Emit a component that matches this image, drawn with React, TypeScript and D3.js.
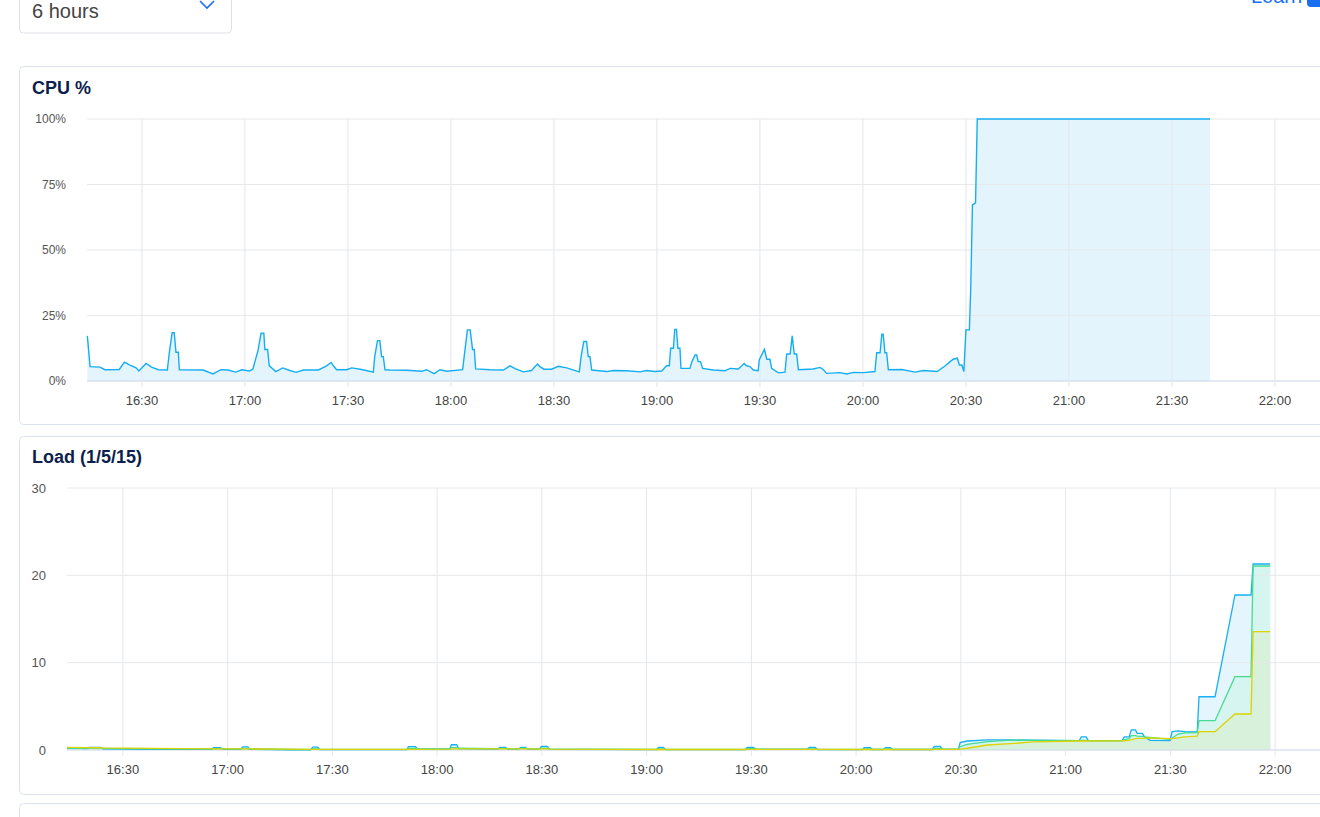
import React from 'react'
import * as d3 from 'd3'

// minutes after 16:14, the left edge of the 6 hour window
const cpuMinutes = [
  0.1, 0.9, 3.8, 5.2, 9.4, 10.9, 12.5, 14.3, 15.1, 17.2, 18.8, 20.8, 23.4, 24.0, 24.8, 25.4, 25.9, 26.6, 26.9,
  33.8, 36.7, 39.0, 41.1, 43.3, 45.1, 47.3, 48.3, 49.8, 50.7, 51.5, 51.8, 52.6, 53.1, 55.0, 57.0, 59.1, 60.9,
  63.0, 67.4, 69.8, 71.1, 71.7, 72.7, 75.6, 77.1, 80.0, 83.4, 83.8, 84.6, 85.3, 85.8, 86.3, 86.8, 88.3, 93.1,
  97.5, 98.9, 101.1, 102.8, 104.8, 109.4, 110.1, 110.8, 111.6, 112.3, 112.8, 113.2, 117.4, 121.3, 123.2, 124.7,
  127.1, 129.5, 130.0, 131.2, 131.9, 133.1, 135.3, 137.3, 139.7, 143.4, 143.9, 144.7, 145.5, 146.0, 146.5,
  147.0, 151.4, 153.3, 157.2, 161.1, 163.0, 165.4, 167.4, 168.8, 169.6, 170.0, 170.8, 171.2, 171.7, 172.1,
  172.7, 173.0, 175.6, 176.2, 177.1, 177.6, 178.0, 178.7, 179.3, 182.4, 185.8, 187.3, 189.7, 190.7, 191.4,
  192.1, 193.1, 194.1, 195.5, 195.8, 197.3, 198.0, 198.9, 199.4, 201.4, 203.3, 203.8, 204.8, 205.4, 206.0,
  206.7, 207.2, 211.5, 213.5, 214.5, 215.4, 219.3, 221.3, 223.2, 226.1, 229.5, 230.0, 231.0, 231.5, 231.9,
  232.4, 232.9, 233.4, 237.3, 241.2, 243.6, 247.6, 249.9, 251.4, 252.3, 253.5, 254.1, 254.8, 255.4, 256.0,
  257.0, 257.4, 257.9, 258.8, 259.3, 327.1,
]
const cpuValues = [
  17.2, 5.5, 5.3, 4.3, 4.4, 7.2, 6.1, 5.0, 3.8, 6.7, 5.3, 4.3, 4.2, 11, 18.4, 18.4, 11, 11, 4.3,
  4.2, 2.7, 4.3, 4.2, 3.4, 4.3, 3.8, 4.5, 11.6, 18.2, 18.2, 12, 12, 5.8, 3.6, 5.0, 4.0, 3.3,
  4.2, 4.2, 5.8, 7.1, 5.9, 4.3, 4.3, 5.0, 4.4, 3.4, 9.3, 15.4, 15.4, 9.3, 9.3, 4.3, 4.2, 4.1,
  3.7, 4.3, 2.8, 4.3, 3.7, 4.3, 12, 19.5, 19.5, 12, 12, 4.6, 4.3, 4.2, 5.8, 4.7,
  3.5, 4.0, 4.8, 6.5, 5.5, 4.5, 4.5, 5.6, 5.0, 3.5, 9.3, 15.1, 15.1, 9.3, 9.3,
  4.2, 3.6, 4.0, 3.9, 3.5, 4.0, 3.6, 3.8, 5.8, 5.8, 12.5, 12.5, 19.7, 19.7, 12.5,
  12.5, 4.8, 4.8, 7.4, 9.9, 9.9, 7.4, 7.4, 4.8, 4.2, 3.9, 4.8, 4.6, 5.8, 6.7,
  5.8, 5.5, 4.2, 3.9, 8, 12.1, 8.3, 8.3, 4.8, 3.1, 3.4, 10.3, 10.3, 17.2, 10.3,
  10.3, 4.3, 4.6, 5.2, 4.3, 2.9, 3.2, 2.7, 3.3, 3.2, 3.6, 10.8, 10.8, 17.9, 17.9,
  10.8, 10.8, 4.3, 4.4, 3.4, 4.0, 3.6, 5.7, 7.4, 8.3, 8.7, 6.1, 6.1, 3.6, 19.5,
  19.5, 35.4, 67.2, 68, 100, 100,
]
const cpuTicks = [0, 25, 50, 75, 100]

const loadMinutes = [
  0, 5.7, 6.3, 9.7, 10.3, 24.0, 41.5, 42.0, 44.0, 44.6, 49.8, 50.3, 51.8, 52.3, 64.1, 69.8, 70.4, 71.8, 72.4,
  97.3, 97.8, 99.8, 100.4, 109.6, 110.1, 111.6, 112.2, 123.3, 123.9, 125.6, 126.2, 129.3, 129.9, 131.3, 131.9,
  135.3, 135.9, 137.6, 138.2, 168.8, 169.4, 170.8, 171.4, 194.3, 194.8, 196.6, 197.2, 212.0, 212.6, 214.3, 214.9,
  227.8, 228.3, 230.1, 230.6, 233.8, 234.4, 235.8, 236.4, 247.8, 248.4, 250.1, 250.7, 255.3, 255.8, 257.8, 263.6,
  270.1, 276.7, 289.9, 290.5, 291.9, 292.5, 302.2, 302.8, 304.2, 304.8, 306.0, 306.5, 308.0, 308.6, 310.2, 315.9,
  316.5, 318.2, 320.2, 323.7, 324.2, 328.8, 334.5, 339.1, 339.7, 344.6,
]
const loadOne = [
  0.25, 0.15, 0.3, 0.3, 0.12, 0.08, 0.08, 0.28, 0.28, 0.08, 0.08, 0.35, 0.35, 0.08, 0.03, 0.03, 0.32, 0.32, 0.04,
  0.06, 0.38, 0.38, 0.1, 0.1, 0.6, 0.6, 0.15, 0.1, 0.3, 0.3, 0.1, 0.1, 0.3, 0.3, 0.1,
  0.1, 0.42, 0.42, 0.08, 0.04, 0.3, 0.3, 0.05, 0.06, 0.3, 0.3, 0.08, 0.08, 0.3, 0.3, 0.06,
  0.05, 0.28, 0.28, 0.06, 0.06, 0.28, 0.28, 0.06, 0.06, 0.4, 0.4, 0.08, 0.07, 0.84, 1.03, 1.15,
  1.15, 1.12, 1.08, 1.5, 1.5, 1.07, 1.07, 1.5, 1.5, 2.3, 2.3, 1.9, 1.9, 1.5, 1.1, 1.07,
  2.1, 2.2, 2.1, 2.06, 6.1, 6.1, 17.75, 17.75, 21.3, 21.3,
]
const loadFive = [
  0.2, 0.2, 0.22, 0.22, 0.18, 0.12, 0.12, 0.16, 0.16, 0.12, 0.12, 0.18, 0.18, 0.12, 0.06, 0.06, 0.12, 0.12, 0.07,
  0.1, 0.18, 0.18, 0.14, 0.14, 0.28, 0.28, 0.2, 0.15, 0.18, 0.18, 0.15, 0.14, 0.18, 0.18, 0.14,
  0.14, 0.2, 0.2, 0.12, 0.07, 0.12, 0.12, 0.08, 0.09, 0.15, 0.15, 0.1, 0.1, 0.14, 0.14, 0.09,
  0.08, 0.12, 0.12, 0.08, 0.08, 0.12, 0.12, 0.08, 0.08, 0.15, 0.15, 0.1, 0.1, 0.38, 0.65, 0.95,
  1.12, 1.1, 1.07, 1.1, 1.1, 1.07, 1.07, 1.2, 1.3, 1.64, 1.64, 1.6, 1.55, 1.5, 1.45, 1.22,
  1.35, 1.83, 1.95, 1.98, 3.36, 3.36, 8.4, 8.4, 21.07, 21.07,
]
const loadFifteen = [
  0.3, 0.28, 0.28, 0.26, 0.25, 0.18, 0.14, 0.14, 0.14, 0.14, 0.13, 0.13, 0.13, 0.12, 0.09, 0.08, 0.08, 0.08, 0.08,
  0.07, 0.08, 0.08, 0.08, 0.09, 0.12, 0.12, 0.12, 0.12, 0.12, 0.12, 0.12, 0.12, 0.12, 0.12, 0.12,
  0.11, 0.12, 0.12, 0.11, 0.06, 0.06, 0.06, 0.06, 0.06, 0.07, 0.07, 0.07, 0.07, 0.07, 0.07, 0.07,
  0.06, 0.06, 0.06, 0.06, 0.06, 0.06, 0.06, 0.06, 0.06, 0.07, 0.07, 0.07, 0.07, 0.1, 0.2, 0.57,
  0.72, 0.92, 1.03, 1.03, 1.03, 1.03, 1.05, 1.06, 1.1, 1.2, 1.3, 1.33, 1.34, 1.36, 1.38, 1.3,
  1.3, 1.4, 1.5, 1.6, 2.1, 2.1, 4.12, 4.12, 13.55, 13.55,
]
const loadTicks = [0, 10, 20, 30]

const FONT = '"Liberation Sans", Arial, sans-serif'
const start = new Date(2024, 0, 1, 16, 14)
const end = d3.timeMinute.offset(start, 360)
const toDate = (m: number) => new Date(start.getTime() + m * 60000)

type Pt = { t: Date; v: number }

function Grid({ x, y, top, bottom, left, right, yTicks, yFmt, labelX, yFont }: any) {
  const ticks: Date[] = x.ticks(d3.timeMinute.every(30))
  const fmt = d3.timeFormat('%H:%M')
  return (
    <g>
      {yTicks.map((t: number) => (
        <g key={'y' + t}>
          <line x1={left} x2={right} y1={y(t)} y2={y(t)} stroke={t === 0 ? '#c9d4e6' : '#e6e8ec'} />
          <text x={labelX} y={y(t)} dy="0.35em" textAnchor="end" fontSize={yFont} fill="#555">{yFmt(t)}</text>
        </g>
      ))}
      {ticks.map((d) => (
        <g key={'x' + d.getTime()}>
          <line x1={x(d)} x2={x(d)} y1={top} y2={bottom + 6} stroke="#e3e6ec" />
          <text x={x(d)} y={bottom + 24} textAnchor="middle" fontSize={13} fill="#444">{fmt(d)}</text>
        </g>
      ))}
    </g>
  )
}

function CpuChart() {
  const left = 87, right = 1323, top = 119, bottom = 381
  const x = d3.scaleTime().domain([start, end]).range([left, right])
  const y = d3.scaleLinear().domain([0, 100]).range([bottom, top])
  const data: Pt[] = cpuMinutes.map((m, i) => ({ t: toDate(m), v: cpuValues[i] }))
  const area = d3.area<Pt>().x(d => x(d.t)).y0(y(0)).y1(d => y(d.v))
  const line = d3.line<Pt>().x(d => x(d.t)).y(d => y(d.v))
  return (
    <g>
      <rect x={19.5} y={66.5} width={1330} height={358} rx={4} fill="#fff" stroke="#dde3ee" />
      <text x={32} y={94} fontSize={18} fontWeight="bold" fill="#0d1f4e">CPU %</text>
      <path d={area(data)!} fill="#e3f4fd" />
      <Grid x={x} y={y} top={top} bottom={bottom} left={left} right={right} yTicks={cpuTicks}
        yFmt={(t: number) => t + '%'} labelX={66} yFont={12} />
      <path d={line(data)!} fill="none" stroke="#16aef2" strokeWidth={1.4} />
    </g>
  )
}

function LoadChart() {
  const left = 67, right = 1324, top = 488, bottom = 750
  const x = d3.scaleTime().domain([start, end]).range([left, right])
  const y = d3.scaleLinear().domain([0, 30]).range([bottom, top])
  const series = [
    { name: '1', values: loadOne, stroke: '#19b0f4', fill: '#e4f5fd' },
    { name: '5', values: loadFive, stroke: '#45dc92', fill: '#d6f5f1' },
    { name: '15', values: loadFifteen, stroke: '#dcd300', fill: '#d8f1da' },
  ]
  const area = d3.area<Pt>().x(d => x(d.t)).y0(y(0)).y1(d => y(d.v))
  const line = d3.line<Pt>().x(d => x(d.t)).y(d => y(d.v))
  const pts = (vals: number[]) => loadMinutes.map((m, i) => ({ t: toDate(m), v: vals[i] }))
  return (
    <g>
      <rect x={19.5} y={436.5} width={1330} height={358} rx={4} fill="#fff" stroke="#dde3ee" />
      <text x={32} y={463} fontSize={18} fontWeight="bold" fill="#0d1f4e">Load (1/5/15)</text>
      {series.map(s => <path key={'a' + s.name} d={area(pts(s.values))!} fill={s.fill} />)}
      <Grid x={x} y={y} top={top} bottom={bottom} left={left} right={right} yTicks={loadTicks}
        yFmt={(t: number) => String(t)} labelX={46} yFont={13} />
      {series.map(s => (
        <path key={'l' + s.name} d={line(pts(s.values))!} fill="none" stroke={s.stroke} strokeWidth={1.3} />
      ))}
    </g>
  )
}

export default function App() {
  return (
    <svg width={1320} height={817} style={{ position: 'absolute', left: 0, top: 0, fontFamily: FONT }}>
      <rect width={1320} height={817} fill="#fff" />
      {/* range picker */}
      <rect x={19.5} y={-10} width={212} height={43} rx={4} fill="#fff" stroke="#dde1e7" />
      <text x={32} y={18} fontSize={20} fill="#444">6 hours</text>
      <polyline points="200,1 207,8 214,1" fill="none" stroke="#1a6ff0" strokeWidth={1.6} />
      <text x={1251} y={3} fontSize={20} fill="#1a6ff0">Learn</text>
      <rect x={1307} y={-10} width={22} height={17} rx={4} fill="#1a6ff0" />
      <CpuChart />
      <LoadChart />
      <rect x={19.5} y={803.5} width={1330} height={40} rx={4} fill="#fff" stroke="#dde3ee" />
    </svg>
  )
}
